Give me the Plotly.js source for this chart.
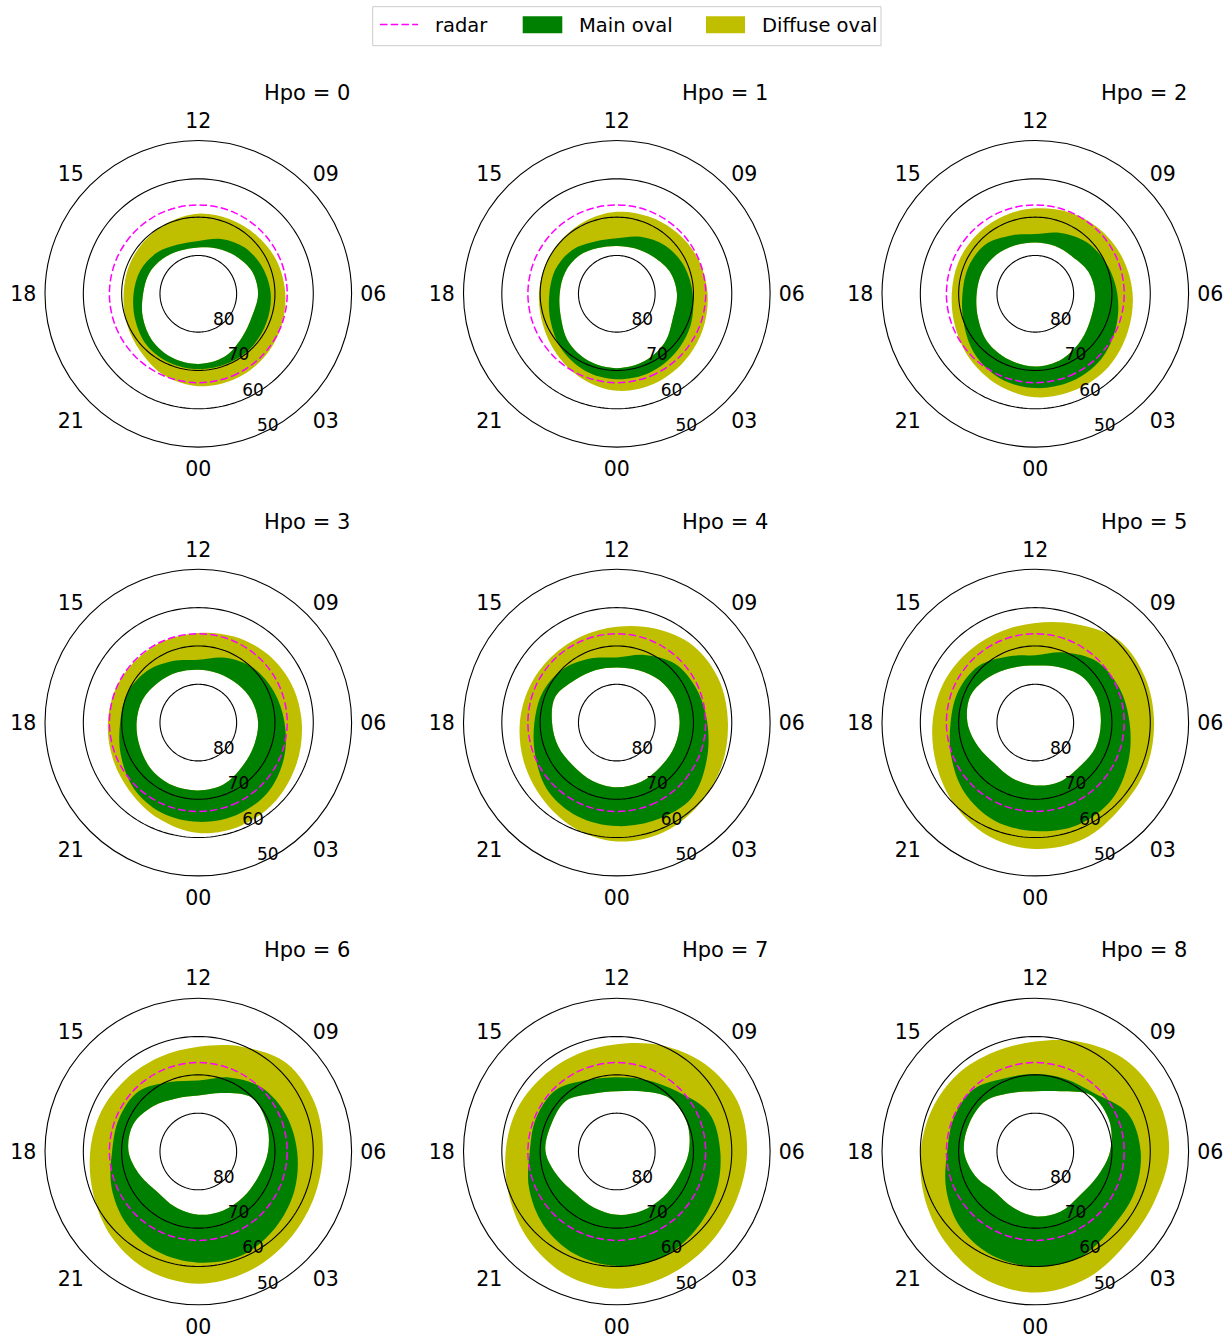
<!DOCTYPE html>
<html>
<head>
<meta charset="utf-8">
<script src="https://cdn.plot.ly/plotly-3.0.1.min.js"></script>
<style>html,body{margin:0;padding:0;background:#fff}</style>
</head>
<body>
<div id="chart" style="width:1230px;height:1335px"></div>
<script>
// Magnetic local time of each boundary sample (hours)
const mlt = [0, 1.5, 3, 4.5, 6, 7.5, 9, 10.5, 12, 13.5, 15, 16.5, 18, 19.5, 21, 22.5];
const hpoLevels = [0, 1, 2, 3, 4, 5, 6, 7, 8];

// Main oval, equatorward boundary (magnetic latitude, deg)
const mainEq0 = [70.3,70.3,70.3,70.7,71.1,71.9,72.9,74.5,76.2,76.1,74.8,73.7,73.1,72.2,71.0,70.5];
const mainEq1 = [67.7,67.7,68.3,69.1,70.2,71.0,72.2,73.9,75.5,75.2,73.7,72.8,72.4,71.3,69.6,68.3];
const mainEq2 = [65.4,65.3,65.8,67.2,68.6,69.8,71.0,72.8,74.4,73.5,71.7,71.2,71.0,69.8,67.7,66.1];
const mainEq3 = [64.1,63.9,64.3,65.8,67.5,68.7,69.8,71.7,73.6,72.6,71.0,70.0,69.6,68.1,66.0,64.6];
const mainEq4 = [63.0,62.6,62.3,64.6,66.4,67.4,68.4,70.9,73.0,71.9,70.2,69.1,68.5,67.0,64.7,63.5];
const mainEq5 = [61.7,61.1,61.7,63.7,65.4,66.3,67.4,70.2,72.4,71.3,69.1,68.3,67.9,66.3,64.0,62.3];
const mainEq6 = [61.0,60.6,61.7,62.9,64.2,65.2,66.5,69.1,71.5,70.4,67.9,67.6,67.5,65.5,63.4,61.8];
const mainEq7 = [60.1,59.9,61.0,62.0,63.0,63.9,67.8,69.8,70.6,69.8,67.4,67.2,67.3,65.2,62.9,61.1];
const mainEq8 = [60.0,60.0,61.8,62.0,62.5,63.9,68.4,69.5,69.8,69.3,67.1,67.0,67.0,64.8,62.2,60.6];

// Main oval, poleward boundary (magnetic latitude, deg)
const mainPole0 = [71.7,72.2,73.9,74.8,74.4,74.8,76.1,77.2,77.9,77.8,77.0,76.1,75.6,74.3,72.9,72.0];
const mainPole1 = [70.6,71.0,72.2,74.1,74.3,75.0,76.4,77.2,77.5,77.1,76.0,75.4,75.1,74.2,72.2,71.0];
const mainPole2 = [71.0,71.6,73.0,74.2,74.4,75.0,76.3,76.5,76.6,76.3,75.6,75.0,74.7,73.8,72.3,71.5];
const mainPole3 = [72.3,72.6,73.8,74.3,74.4,74.9,75.7,76.1,76.2,75.8,75.2,74.3,73.9,73.5,72.7,72.3];
const mainPole4 = [73.1,73.3,73.8,73.7,73.6,73.7,74.3,75.2,75.6,75.2,74.4,72.6,73.1,73.5,74.0,73.5];
const mainPole5 = [73.6,73.3,73.7,73.0,72.9,72.6,72.9,74.3,75.1,74.5,73.1,71.7,72.3,73.8,74.9,74.3];
const mainPole6 = [73.5,73.3,73.3,73.0,71.8,70.7,70.2,73.5,75.4,75.0,73.3,71.6,71.8,73.6,75.0,74.3];
const mainPole7 = [73.5,73.2,73.0,72.6,71.2,70.2,70.4,73.0,74.3,73.7,71.3,71.5,71.4,73.3,74.6,74.2];
const mainPole8 = [73.1,73.0,73.7,72.6,70.5,69.1,69.3,73.0,74.3,73.5,71.5,71.3,71.4,73.1,75.1,74.3];

// Diffuse oval, equatorward boundary (magnetic latitude, deg)
const diffEq0 = [65.9,65.8,66.1,66.7,67.3,67.8,68.5,68.9,69.1,69.8,70.3,70.5,70.5,69.8,68.7,66.9];
const diffEq1 = [64.7,64.6,65.1,65.7,66.3,66.9,67.6,68.2,68.6,69.3,69.8,69.9,69.7,69.1,67.8,66.1];
const diffEq2 = [63.0,62.8,63.0,63.9,64.6,65.4,66.2,67.0,67.7,68.1,68.3,68.3,68.2,67.4,65.9,64.3];
const diffEq3 = [61.2,60.9,61.3,62.2,63.0,63.7,64.6,65.7,66.6,66.9,67.0,66.7,66.4,65.8,64.7,62.9];
const diffEq4 = [59.0,58.9,59.7,60.4,61.0,61.1,61.7,63.5,65.0,65.7,65.8,65.4,64.7,63.7,62.3,60.4];
const diffEq5 = [57.0,57.1,58.5,58.7,59.0,59.0,59.4,62.2,64.0,64.6,64.5,63.9,63.2,62.0,60.0,58.0];
const diffEq6 = [55.5,56.1,57.0,57.5,57.5,57.1,57.4,60.4,62.7,63.4,63.3,62.6,61.8,60.4,58.2,56.3];
const diffEq7 = [54.2,55.0,55.9,56.3,56.0,55.9,57.6,60.0,62.0,62.6,62.5,61.7,61.0,59.6,57.4,55.2];
const diffEq8 = [53.2,54.3,56.2,56.3,55.1,55.2,56.4,59.1,61.3,61.9,61.4,60.9,60.1,58.7,56.7,54.3];

// Radar field-of-view boundary (magnetic latitude, deg)
const radarLat = [66.8,66.8,66.8,66.8,66.8,66.8,66.8,66.8,66.8,66.8,66.8,66.8,66.8,66.8,66.8,66.8];

// Axis labels
const mltTickLabels = ['00','03','06','09','12','15','18','21'];
const mltTickHours = [0, 3, 6, 9, 12, 15, 18, 21];
const latTicks = [80, 70, 60, 50];
const latGridCircles = [80, 70, 60];
const latLabelMlt = 1.5;   // latitude labels sit along this MLT

const mainEqAll = [mainEq0, mainEq1, mainEq2, mainEq3, mainEq4, mainEq5, mainEq6, mainEq7, mainEq8];
const mainPoleAll = [mainPole0, mainPole1, mainPole2, mainPole3, mainPole4, mainPole5, mainPole6, mainPole7, mainPole8];
const diffEqAll = [diffEq0, diffEq1, diffEq2, diffEq3, diffEq4, diffEq5, diffEq6, diffEq7, diffEq8];

const GREEN = '#008000';
const YELLOW = '#bfbf00';
const MAGENTA = '#ff00ff';
const RADAR_DASH = '7.5px,3.2px';
const FONT = 'DejaVu Sans, Verdana, sans-serif';

// page geometry (pixels)
const W = 1230, H = 1335;
const colCenters = [198.3, 616.8, 1035.3];
const rowCenters = [293.8, 722.6, 1151.5];
const R = 153.3;

// closed loop in colatitude (radius) and theta (deg), winding with increasing MLT
function boundaryLoop(lat) {
  const r = lat.map(v => 90 - v);
  const th = mlt.map(h => h * 15);
  return { r: r.concat([r[0]]), theta: th.concat([360]) };
}

function circleLoop(lat) {
  const th = [], r = [];
  for (let a = 0; a <= 360; a += 2) { th.push(a); r.push(90 - lat); }
  return { r: r, theta: th };
}

const traces = [];
const layout = {
  width: W, height: H,
  margin: { l: 0, r: 0, t: 0, b: 0 },
  showlegend: false,
  paper_bgcolor: '#ffffff',
  font: { family: FONT, color: '#000000' },
  annotations: [],
  shapes: []
};

hpoLevels.forEach((hpo, i) => {
  const sub = i === 0 ? 'polar' : 'polar' + (i + 1);
  const cx = colCenters[i % 3];
  const cy = rowCenters[Math.floor(i / 3)];
  const base = { type: 'scatterpolar', subplot: sub, mode: 'lines', hoverinfo: 'skip', showlegend: false };

  // diffuse oval band: equatorward edge, then fill back to it from the poleward edge
  const dOut = boundaryLoop(diffEqAll[i]);
  traces.push(Object.assign({}, base, { r: dOut.r, theta: dOut.theta,
    line: { width: 0, color: YELLOW, shape: 'spline', smoothing: 1 } }));
  const dIn = boundaryLoop(mainPoleAll[i]);
  traces.push(Object.assign({}, base, { r: dIn.r, theta: dIn.theta, name: 'Diffuse oval',
    fill: 'tonext', fillcolor: YELLOW,
    line: { width: 0, color: YELLOW, shape: 'spline', smoothing: 1 } }));

  // main oval band
  const mOut = boundaryLoop(mainEqAll[i]);
  traces.push(Object.assign({}, base, { r: mOut.r, theta: mOut.theta,
    line: { width: 0, color: GREEN, shape: 'spline', smoothing: 1 } }));
  const mIn = boundaryLoop(mainPoleAll[i]);
  traces.push(Object.assign({}, base, { r: mIn.r, theta: mIn.theta, name: 'Main oval',
    fill: 'tonext', fillcolor: GREEN,
    line: { width: 0, color: GREEN, shape: 'spline', smoothing: 1 } }));

  // latitude circles drawn over the ovals
  latGridCircles.forEach(lat => {
    const c = circleLoop(lat);
    traces.push(Object.assign({}, base, { r: c.r, theta: c.theta,
      line: { width: 1.1, color: '#000000' } }));
  });

  // radar boundary
  const rd = boundaryLoop(radarLat);
  traces.push(Object.assign({}, base, { r: rd.r, theta: rd.theta, name: 'radar',
    line: { width: 1.5, color: MAGENTA, dash: RADAR_DASH, shape: 'spline', smoothing: 1 } }));

  // latitude labels, placed above-right of each circle along the label MLT
  traces.push(Object.assign({}, base, {
    mode: 'text',
    r: latTicks.map(v => 90 - v),
    theta: latTicks.map(() => latLabelMlt * 15),
    text: latTicks.map(String),
    textposition: 'top right',
    textfont: { size: 17, family: FONT, color: '#000000' },
    cliponaxis: false
  }));

  layout[sub] = {
    domain: { x: [(cx - R) / W, (cx + R) / W], y: [1 - (cy + R) / H, 1 - (cy - R) / H] },
    bgcolor: 'rgba(0,0,0,0)',
    angularaxis: {
      rotation: -90, direction: 'counterclockwise',
      tickmode: 'array', tickvals: mltTickHours.map(h => h * 15), ticktext: mltTickLabels,
      showgrid: false, showline: true, linecolor: '#000000', linewidth: 1.1,
      ticks: 'outside', ticklen: 4, tickcolor: 'rgba(0,0,0,0)',
      tickfont: { size: 20.5, family: FONT, color: '#000000' }
    },
    radialaxis: {
      range: [0, 40],
      tickmode: 'array', tickvals: latTicks.map(v => 90 - v),
      showgrid: false, showline: false, ticks: '', showticklabels: false
    }
  };

  layout.annotations.push({
    xref: 'paper', yref: 'paper', x: (cx + R) / W, y: 1 - (cy - 201.1) / H,
    xanchor: 'right', yanchor: 'middle', showarrow: false,
    text: 'Hpo = ' + hpo, font: { size: 21, family: FONT, color: '#000000' }
  });
});

// legend box
const px = v => v / W, py = v => 1 - v / H;
layout.shapes.push({ type: 'rect', xref: 'paper', yref: 'paper', x0: px(372.7), x1: px(881), y0: py(6.7), y1: py(45.7),
  line: { color: '#cccccc', width: 1 }, fillcolor: '#ffffff' });
layout.shapes.push({ type: 'line', xref: 'paper', yref: 'paper', x0: px(380), x1: px(418), y0: py(24.5), y1: py(24.5),
  line: { color: MAGENTA, width: 1.5, dash: RADAR_DASH } });
layout.shapes.push({ type: 'rect', xref: 'paper', yref: 'paper', x0: px(522.7), x1: px(562.3), y0: py(16.2), y1: py(33.2),
  line: { width: 0 }, fillcolor: GREEN });
layout.shapes.push({ type: 'rect', xref: 'paper', yref: 'paper', x0: px(706), x1: px(745), y0: py(16.2), y1: py(33.2),
  line: { width: 0 }, fillcolor: YELLOW });
[['radar', 434], ['Main oval', 578], ['Diffuse oval', 760.5]].forEach(([t, x]) => {
  layout.annotations.push({ xref: 'paper', yref: 'paper', x: px(x), y: py(25), xanchor: 'left', yanchor: 'middle',
    showarrow: false, text: t, font: { size: 19.5, family: FONT, color: '#000000' }, xshift: -1 });
});

Plotly.newPlot('chart', traces, layout, { displayModeBar: false, staticPlot: true });
</script>
</body>
</html>
